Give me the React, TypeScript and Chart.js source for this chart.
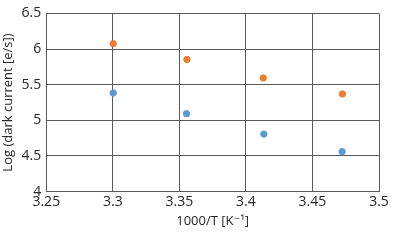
import React, { useEffect, useRef } from "react";
import { Chart, registerables } from "chart.js";

Chart.register(...registerables);

const seriesAX = [3.3003, 3.3557, 3.413, 3.4725];
const seriesAY = [6.075, 5.854, 5.594, 5.369];
const seriesBX = [3.3003, 3.3554, 3.4135, 3.4723];
const seriesBY = [5.383, 5.093, 4.807, 4.56];

const xTitle = "1000/T [K⁻¹]";
const yTitle = "Log (dark current [e/s])";

export default function App() {
  const ref = useRef<HTMLCanvasElement | null>(null);
  useEffect(() => {
    if (!ref.current) return;
    const font = "'Open Sans', 'DejaVu Sans', sans-serif";
    const chart = new Chart(ref.current, {
      type: "scatter",
      data: {
        datasets: [
          {
            label: "A",
            data: seriesAX.map((x, i) => ({ x, y: seriesAY[i] })),
            backgroundColor: "#ED7D31",
            borderColor: "#ED7D31",
            pointRadius: 3.2,
          },
          {
            label: "B",
            data: seriesBX.map((x, i) => ({ x, y: seriesBY[i] })),
            backgroundColor: "#5B9BD5",
            borderColor: "#5B9BD5",
            pointRadius: 3.2,
          },
        ],
      },
      options: {
        animation: false,
        responsive: false,
        maintainAspectRatio: false,
        layout: { padding: { top: 7, right: 21, left: 0, bottom: 12 } },
        plugins: { legend: { display: false }, tooltip: { enabled: false } },
        scales: {
          x: {
            type: "linear",
            min: 3.25,
            max: 3.5,
            ticks: {
              stepSize: 0.05,
              color: "#262626",
              font: { family: font, size: 14 },
              padding: 2,
              callback: (v: any) => String(Number(Number(v).toFixed(2))),
            },
            grid: { color: "#5a5a5a", drawTicks: false, lineWidth: 1 },
            border: { color: "#5a5a5a" },
            title: {
              display: true,
              text: xTitle,
              color: "#262626",
              font: { family: font, size: 13 },
              padding: { top: 1, bottom: 0 },
            },
          },
          y: {
            type: "linear",
            min: 4,
            max: 6.5,
            ticks: {
              stepSize: 0.5,
              color: "#262626",
              font: { family: font, size: 14 },
              padding: 5,
              callback: (v: any) => String(Number(Number(v).toFixed(1))),
            },
            grid: { color: "#5a5a5a", drawTicks: false, lineWidth: 1 },
            border: { color: "#5a5a5a" },
            title: {
              display: true,
              text: yTitle,
              color: "#262626",
              font: { family: font, size: 13 },
              padding: { top: 0, bottom: 1 },
            },
          },
        },
      },
    });
    return () => chart.destroy();
  }, []);
  return (
    <div style={{ position: "absolute", left: 0, top: 0, width: 400, height: 241, background: "#fff" }}>
      <canvas ref={ref} width={400} height={241} style={{ width: 400, height: 241 }} />
    </div>
  );
}
